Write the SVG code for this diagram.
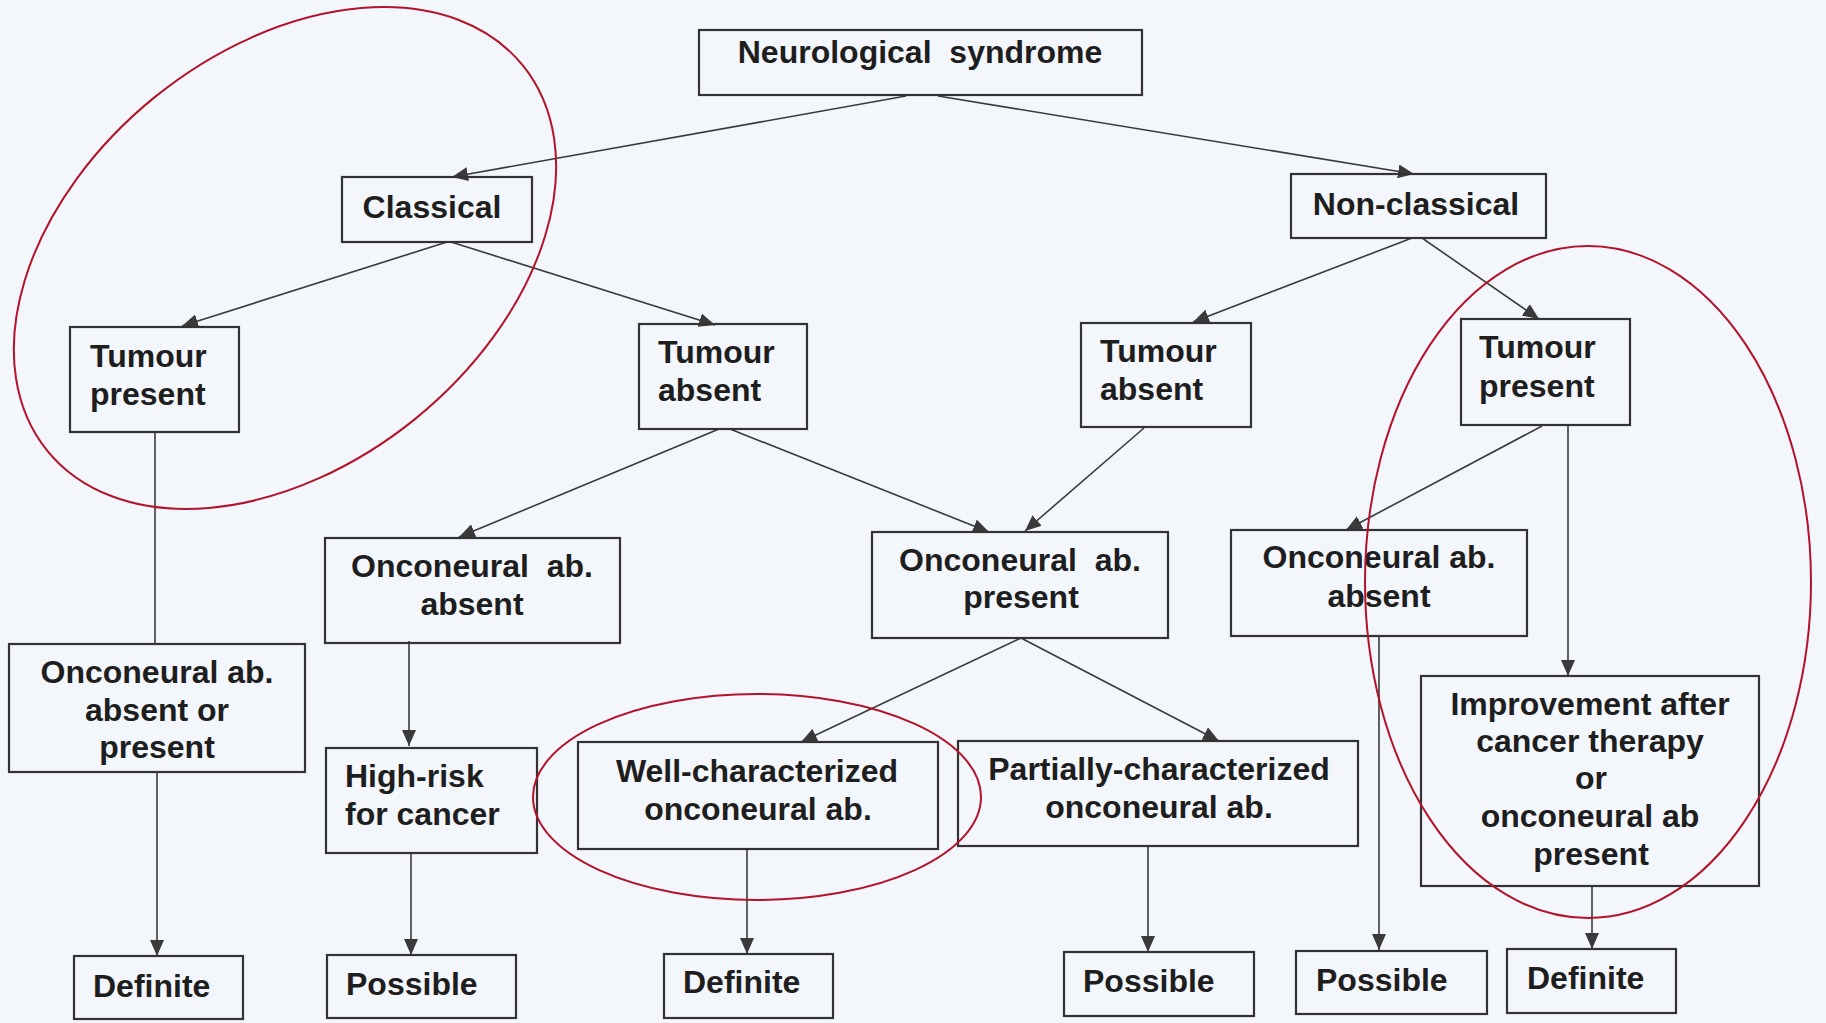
<svg xmlns="http://www.w3.org/2000/svg" width="1826" height="1023" viewBox="0 0 1826 1023">
<defs>
<marker id="arr" viewBox="0 0 16 14" refX="16" refY="7" markerWidth="16" markerHeight="14" markerUnits="userSpaceOnUse" orient="auto">
<path d="M0,0 L16,7 L0,14 z" fill="#3a3a3a"/>
</marker>
<style>
.box{fill:none;stroke:#333;stroke-width:2.2}
.t{font-family:"Liberation Sans",Arial,sans-serif;font-weight:bold;font-size:32px;fill:#1e1e1e}
.m{text-anchor:middle}
.c{fill:none;stroke:#3a3a3a;stroke-width:1.6}
.ca{fill:none;stroke:#3a3a3a;stroke-width:1.6;marker-end:url(#arr)}
.red{fill:none;stroke:#b3132b;stroke-width:2}
</style>
</defs>
<rect x="0" y="0" width="1826" height="1023" fill="#f3f6fb"/>

<g id="connectors">
<line class="ca" x1="906" y1="96" x2="452" y2="177"/>
<line class="ca" x1="938" y1="96" x2="1414" y2="174"/>
<line class="ca" x1="447" y1="242" x2="182" y2="326"/>
<line class="ca" x1="451" y1="242" x2="715" y2="325"/>
<line class="ca" x1="1412" y1="238" x2="1193" y2="322"/>
<line class="ca" x1="1422" y1="238" x2="1539" y2="319"/>
<line class="c" x1="155" y1="432" x2="155" y2="644"/>
<line class="ca" x1="719" y1="429" x2="459" y2="537"/>
<line class="ca" x1="730" y1="429" x2="989" y2="532"/>
<line class="ca" x1="1144" y1="428" x2="1025" y2="531"/>
<line class="ca" x1="1542" y1="426" x2="1346" y2="530"/>
<line class="ca" x1="1568" y1="426" x2="1568" y2="676"/>
<line class="ca" x1="157" y1="772" x2="157" y2="956"/>
<line class="ca" x1="409" y1="641" x2="409" y2="746"/>
<line class="ca" x1="411" y1="852" x2="411" y2="955"/>
<line class="ca" x1="1021" y1="638" x2="801" y2="742"/>
<line class="ca" x1="1021" y1="638" x2="1219" y2="741"/>
<line class="ca" x1="747" y1="849" x2="747" y2="954"/>
<line class="ca" x1="1148" y1="846" x2="1148" y2="952"/>
<line class="ca" x1="1379" y1="635" x2="1379" y2="950"/>
<line class="ca" x1="1592" y1="886" x2="1592" y2="949"/>
</g>

<g id="n-neuro"><rect class="box" x="699" y="30" width="443" height="65"/><text class="t m" x="920" y="63" xml:space="preserve">Neurological  syndrome</text></g>
<g id="n-classical"><rect class="box" x="342" y="177" width="190" height="65"/><text class="t m" x="432" y="218">Classical</text></g>
<g id="n-nonclassical"><rect class="box" x="1291" y="174" width="255" height="64"/><text class="t m" x="1416" y="215">Non-classical</text></g>
<g id="n-tp-left"><rect class="box" x="70" y="327" width="169" height="105"/><text class="t" x="90" y="367">Tumour</text><text class="t" x="90" y="405">present</text></g>
<g id="n-ta-1"><rect class="box" x="639" y="324" width="168" height="105"/><text class="t" x="658" y="363">Tumour</text><text class="t" x="658" y="401">absent</text></g>
<g id="n-ta-2"><rect class="box" x="1081" y="323" width="170" height="104"/><text class="t" x="1100" y="362">Tumour</text><text class="t" x="1100" y="400">absent</text></g>
<g id="n-tp-right"><rect class="box" x="1461" y="319" width="169" height="106"/><text class="t" x="1479" y="358">Tumour</text><text class="t" x="1479" y="397">present</text></g>
<g id="n-oaa-1"><rect class="box" x="325" y="538" width="295" height="105"/><text class="t m" x="472" y="577" xml:space="preserve">Onconeural  ab.</text><text class="t m" x="472" y="615">absent</text></g>
<g id="n-oap"><rect class="box" x="872" y="532" width="296" height="106"/><text class="t m" x="1020" y="571" xml:space="preserve">Onconeural  ab.</text><text class="t m" x="1021" y="608">present</text></g>
<g id="n-oaa-2"><rect class="box" x="1231" y="530" width="296" height="106"/><text class="t m" x="1379" y="568">Onconeural ab.</text><text class="t m" x="1379" y="607">absent</text></g>
<g id="n-oaaop"><rect class="box" x="9" y="644" width="296" height="128"/><text class="t m" x="157" y="683">Onconeural ab.</text><text class="t m" x="157" y="721">absent or</text><text class="t m" x="157" y="758">present</text></g>
<g id="n-highrisk"><rect class="box" x="326" y="748" width="211" height="105"/><text class="t" x="345" y="787">High-risk</text><text class="t" x="345" y="825">for cancer</text></g>
<g id="n-well"><rect class="box" x="578" y="742" width="360" height="107"/><text class="t m" x="757" y="782">Well-characterized</text><text class="t m" x="758" y="820">onconeural ab.</text></g>
<g id="n-partial"><rect class="box" x="958" y="741" width="400" height="105"/><text class="t m" x="1159" y="780">Partially-characterized</text><text class="t m" x="1159" y="818">onconeural ab.</text></g>
<g id="n-improve"><rect class="box" x="1421" y="676" width="338" height="210"/><text class="t m" x="1590" y="715">Improvement after</text><text class="t m" x="1590" y="752">cancer therapy</text><text class="t m" x="1591" y="789">or</text><text class="t m" x="1590" y="827">onconeural ab</text><text class="t m" x="1591" y="865">present</text></g>
<g id="n-def-1"><rect class="box" x="74" y="956" width="169" height="63"/><text class="t" x="93" y="997">Definite</text></g>
<g id="n-pos-1"><rect class="box" x="327" y="955" width="189" height="63"/><text class="t" x="346" y="995">Possible</text></g>
<g id="n-def-2"><rect class="box" x="664" y="954" width="169" height="64"/><text class="t" x="683" y="993">Definite</text></g>
<g id="n-pos-2"><rect class="box" x="1064" y="952" width="190" height="64"/><text class="t" x="1083" y="992">Possible</text></g>
<g id="n-pos-3"><rect class="box" x="1296" y="951" width="191" height="63"/><text class="t" x="1316" y="991">Possible</text></g>
<g id="n-def-3"><rect class="box" x="1507" y="949" width="169" height="64"/><text class="t" x="1527" y="989">Definite</text></g>

<g id="highlights">
<ellipse class="red" cx="285" cy="258" rx="306" ry="207" transform="rotate(-39 285 258)"/>
<ellipse class="red" cx="757" cy="797" rx="224" ry="103"/>
<ellipse class="red" cx="1588" cy="582" rx="223" ry="336"/>
</g>
</svg>
